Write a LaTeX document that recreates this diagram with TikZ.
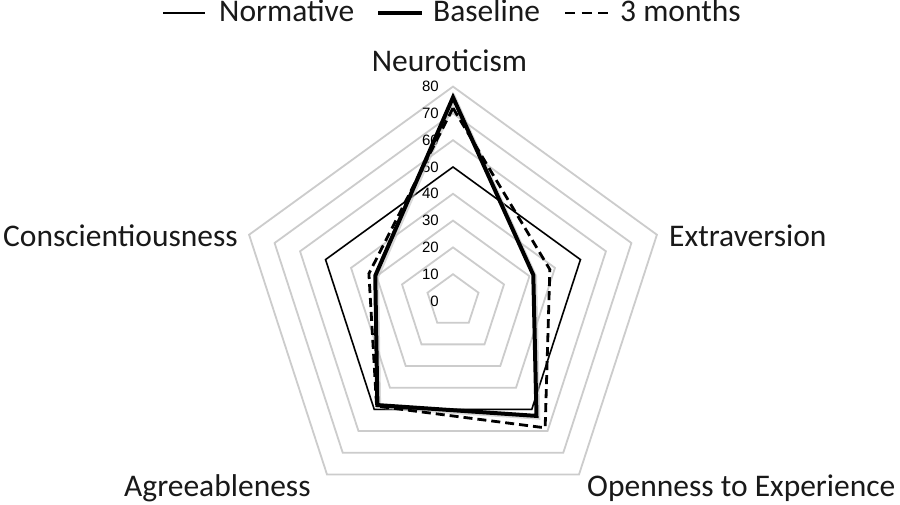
\documentclass[tikz,border=0pt]{standalone}
\usepackage{fontspec}
\setmainfont{Carlito}
\newfontfamily\scalefont{Liberation Sans}
\begin{document}
\begin{tikzpicture}[x=1pt,y=-1pt,
  gridline/.style={draw=black!20, line width=1.8pt},
  normline/.style={draw=black, line width=1.5pt, line join=miter},
  baseline/.style={draw=black, line width=4pt, line join=miter},
  monthline/.style={draw=black, line width=2.8pt, line join=miter, dash pattern=on 9pt off 5pt},
  shadowline/.style={draw=black!25, line width=4.5pt, line join=miter, opacity=0.6},
  axlabel/.style={font=\fontsize{31.5}{36}\selectfont, text=black!90, inner sep=0pt},
  scalelabel/.style={font=\scalefont\fontsize{15}{16}\selectfont, inner sep=0pt, anchor=east},
]
\useasboundingbox (0,0) rectangle (900,505);
\fill[white] (0,0) rectangle (900,505);
\def\uu{2.68}
% grid rings
\begin{scope}[shift={(453,301)}]
\foreach \v in {10,20,...,80}{
  \draw[gridline] (90:{\v*\uu pt}) -- (18:{\v*\uu pt}) -- (-54:{\v*\uu pt}) -- (-126:{\v*\uu pt}) -- (162:{\v*\uu pt}) -- cycle;
}
\end{scope}
% scale labels
\foreach \v in {0,10,...,80}{
  \node[scalelabel] (s\v) at (439,{301-\v*\uu}) {\v};
}
\begin{scope}[shift={(453,301)}]
% normative
\draw[normline] (90:{50*\uu pt}) -- (18:{50*\uu pt}) -- (-54:{50*\uu pt}) -- (-126:{50*\uu pt}) -- (162:{50*\uu pt}) -- cycle;
% shadows
\begin{scope}[shift={(1.5,1.5)}]
\draw[shadowline] (90:{76*\uu pt}) -- (18:{31.5*\uu pt}) -- (-54:{53*\uu pt}) -- (-126:{48*\uu pt}) -- (162:{30.5*\uu pt}) -- cycle;
\end{scope}
% 3 months
\draw[monthline] (90:{72*\uu pt}) -- (18:{38*\uu pt}) -- (-54:{58.5*\uu pt}) -- (-126:{48.5*\uu pt}) -- (162:{33*\uu pt}) -- cycle;
% baseline
\draw[baseline] (90:{76*\uu pt}) -- (18:{31.5*\uu pt}) -- (-54:{53*\uu pt}) -- (-126:{48*\uu pt}) -- (162:{30.5*\uu pt}) -- cycle;
\end{scope}
% axis labels
\node[axlabel, anchor=base] (neu) at (449.5,72) {Neuroticism};
\node[axlabel, anchor=base west] (ext) at (669,247) {Extraversion};
\node[axlabel, anchor=base east] (con) at (238,247) {Conscientiousness};
\node[axlabel, anchor=base west] (agr) at (124,496) {Agreeableness};
\node[axlabel, anchor=base west] (ope) at (587,496) {Openness to Experience};
% legend
\coordinate (l1a) at (163,13); \coordinate (l1b) at (205,13);
\coordinate (l2a) at (378,13); \coordinate (l2b) at (422,13);
\coordinate (l3a) at (565,13); \coordinate (l3b) at (608,13);
\draw[line width=1.5pt] (l1a) -- (l1b);
\draw[line width=4pt] (l2a) -- (l2b);
\draw[line width=2.5pt, dash pattern=on 10pt off 6.5pt] (l3a) -- (l3b);
\node[axlabel, anchor=base west] (lg1) at (219,22) {Normative};
\node[axlabel, anchor=base west] (lg2) at (433,22) {Baseline};
\node[axlabel, anchor=base west] (lg3) at (620,22) {3 months};
\end{tikzpicture}
\end{document}
